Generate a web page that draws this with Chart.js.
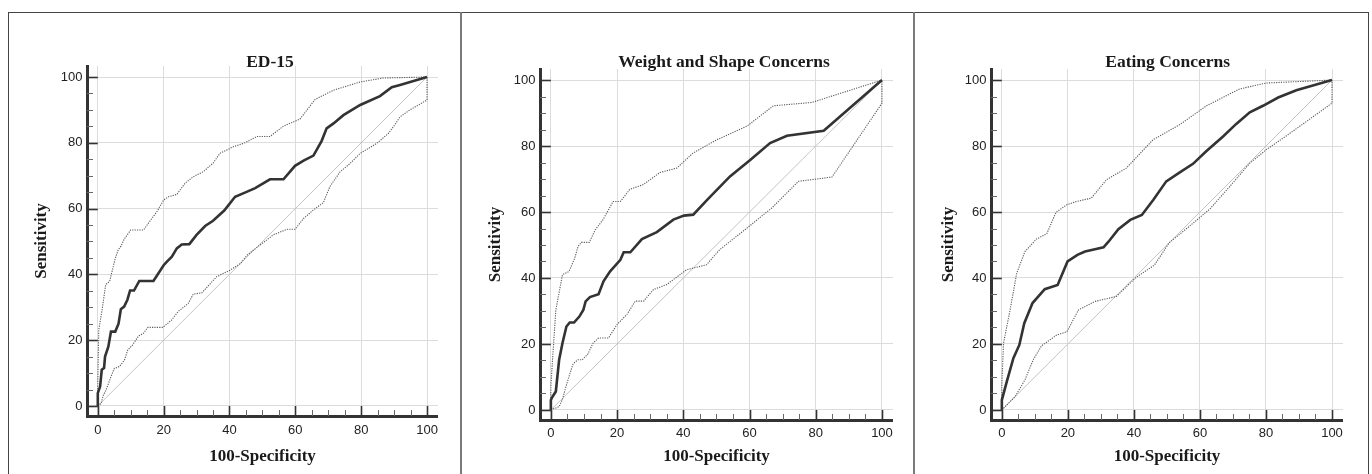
<!DOCTYPE html>
<html>
<head>
<meta charset="utf-8">
<script src="https://cdn.jsdelivr.net/npm/chart.js@4/dist/chart.umd.min.js"></script>
<style>
  html, body { margin: 0; padding: 0; background: #fff; }
  body { width: 1372px; height: 474px; position: relative; overflow: hidden; }
  #frame { position: absolute; left: 8px; top: 12px; width: 1359px; height: 470px; border: 1px solid #444; border-bottom: none; }
  .sep { position: absolute; top: 12px; width: 2px; height: 462px; background: #7a7a7a; }
  canvas { position: absolute; }
</style>
</head>
<body>
<div id="frame"></div>
<div class="sep" style="left:460px"></div>
<div class="sep" style="left:913px"></div>
<canvas id="c1"></canvas>
<canvas id="c2"></canvas>
<canvas id="c3"></canvas>
<script>
// ---------- tick labels ----------
const tickValues = [0, 20, 40, 60, 80, 100];
const minorTicks = [0, 5, 10, 15, 20, 25, 30, 35, 40, 45, 50, 55, 60, 65, 70, 75, 80, 85, 90, 95, 100];
const titles = ['ED-15', 'Weight and Shape Concerns', 'Eating Concerns'];
const xAxisTitle = '100-Specificity';
const yAxisTitle = 'Sensitivity';

// ---------- reference (chance) line ----------
const diagX = [0, 100];
const diagY = [0, 100];

// ---------- ED-15 ----------
const ed15X = [0, 0, 0.7, 1.2, 1.9, 2.2, 3.2, 4, 5.3, 6.3, 7, 8, 9, 9.8, 11, 12.6, 16.9, 20, 21, 22.5, 24, 25.5, 27.8, 30, 32.6, 35, 38.4, 41.7, 45.2, 47.8, 52.3, 56.4, 59.9, 62.5, 65.5, 68, 69.5, 71.6, 74.6, 79.7, 85.7, 89.3, 91.8, 100];
const ed15Y = [0, 3.9, 5.9, 11, 11.5, 15, 18, 22.6, 22.6, 25, 29.4, 30.2, 32.3, 35.1, 35.1, 38, 38, 42.8, 43.9, 45.4, 47.9, 49.1, 49.2, 52, 54.7, 56.3, 59.4, 63.6, 65.1, 66.2, 68.9, 68.9, 73, 74.6, 76.1, 80.6, 84.4, 85.9, 88.4, 91.5, 94.2, 96.9, 97.6, 100];
const ed15UpX = [0, 0, 0.3, 1.4, 2.4, 3.6, 4.6, 5.2, 6.2, 7, 8, 10, 13.9, 16.4, 17.9, 20, 21.5, 24, 26.5, 29, 32, 35, 37.1, 41.2, 44.7, 48.3, 52.3, 56.4, 61.4, 66, 71.6, 79.7, 86.7, 100];
const ed15UpY = [0, 6.9, 23.2, 29.8, 36.9, 37.9, 42, 44.5, 47.5, 48.5, 50.7, 53.5, 53.5, 57, 59, 62.6, 63.6, 64.3, 67.7, 69.7, 71.2, 73.8, 76.8, 78.8, 80, 81.9, 81.9, 85.1, 87.2, 93.2, 96, 98.5, 99.7, 100];
const ed15LoX = [0, 1, 1.7, 2.5, 4, 5, 6.6, 8.1, 9.1, 10.6, 12.4, 13.9, 15.2, 19.8, 22.4, 24.4, 27.5, 29, 31.6, 36.1, 40.2, 43.3, 45.3, 47.3, 53.3, 57.4, 59.9, 62.5, 65.5, 68.5, 70.5, 73.6, 76.6, 79.7, 84.7, 88.3, 89.8, 91.8, 94.8, 100, 100];
const ed15LoY = [0, 0.8, 3.3, 4.8, 8.9, 11.4, 12, 14, 17, 18.6, 21.3, 22.1, 23.9, 23.9, 26.1, 28.7, 31.2, 34, 34.4, 39.3, 41.3, 43.3, 45.8, 47.4, 52, 53.7, 53.7, 57, 59.6, 61.8, 66.7, 71.2, 73.7, 76.8, 79.8, 82.9, 84.9, 87.9, 90, 93, 100];

// ---------- Weight and Shape Concerns ----------
const wscX = [0, 0, 0.5, 1.5, 2.5, 3.5, 4.7, 5.7, 7, 8.6, 9.8, 10.5, 11.8, 14.4, 15.9, 17.9, 21, 22, 24, 27.5, 32, 37, 40.2, 43, 47.2, 54.1, 60.2, 66.2, 71.3, 82.4, 100];
const wscY = [0, 3, 4, 5.6, 15.2, 20.2, 25.3, 26.5, 26.5, 28.3, 30.3, 32.9, 34.2, 35.1, 39, 42, 45.5, 47.8, 47.8, 51.8, 53.9, 57.7, 58.9, 59.2, 63.7, 70.8, 75.8, 80.9, 83.1, 84.6, 100];
const wscUpX = [0, 0, 0.5, 1.5, 3.5, 5.5, 7.2, 8.2, 9.2, 11.6, 13.4, 15.7, 18.8, 21, 23.9, 27.9, 33, 38, 43, 50.1, 59.2, 67.2, 78.8, 100];
const wscUpY = [0, 7, 15.2, 30.3, 41, 42, 46, 49.5, 50.8, 50.8, 54.6, 57.6, 63.2, 63.2, 66.9, 68.3, 72, 73.3, 77.9, 81.9, 86, 92.2, 93.2, 100];
const wscLoX = [0, 2.5, 3.5, 4.7, 6.7, 8.2, 9.5, 11.2, 12.7, 14.4, 17.4, 20, 23, 25.5, 28, 31, 35, 39, 41, 43, 47, 51, 59.2, 66.7, 74.8, 80.3, 84.9, 100, 100];
const wscLoY = [0, 1, 3.2, 7.6, 14, 15.2, 15.2, 17, 20.2, 21.8, 21.8, 25.9, 29, 33, 33, 36.5, 38, 41, 42.5, 43, 44, 48.6, 55.1, 61.2, 69.3, 70, 70.6, 93, 100];

// ---------- Eating Concerns ----------
const ecX = [0, 0, 1.5, 3.5, 5.3, 6.8, 9.3, 13, 16.9, 19.9, 22.9, 25.2, 28.2, 30.8, 32.3, 35.3, 38.9, 42.4, 45.9, 49.8, 53.9, 57.9, 61.9, 67, 71, 75.1, 79.1, 83.7, 89.2, 100];
const ecY = [0, 3, 8.6, 15.7, 19.7, 26.3, 32.4, 36.6, 37.9, 45, 47, 48, 48.7, 49.3, 51, 54.8, 57.6, 59.1, 63.7, 69.3, 72, 74.6, 78.4, 82.9, 86.7, 90.2, 92.2, 94.7, 96.9, 100];
const ecUpX = [0, 0, 0.5, 2.5, 4.5, 7, 10.5, 13.6, 16.4, 19.7, 22.6, 27.1, 31.7, 37.7, 45.8, 53.9, 62, 72, 80.1, 100];
const ecUpY = [0, 7.1, 20.2, 30.3, 41.4, 48, 51.8, 53.4, 59.9, 62.2, 63.2, 64.2, 69.8, 73.3, 81.9, 86.5, 92.2, 97.3, 99.1, 100];
const ecLoX = [0, 4, 7, 9.5, 12, 16.6, 19.7, 23.2, 28.2, 31.7, 34.7, 40.7, 46.2, 50.7, 56, 63, 69, 75.1, 80.1, 86.2, 100, 100];
const ecLoY = [0, 4, 9.1, 15.2, 19.4, 22.7, 23.7, 30.3, 32.9, 33.7, 34.4, 40.2, 43.9, 50.7, 55, 60.9, 67.7, 74.8, 78.9, 83.1, 93, 100];

const series = [
  { main: [ed15X, ed15Y], up: [ed15UpX, ed15UpY], lo: [ed15LoX, ed15LoY] },
  { main: [wscX, wscY], up: [wscUpX, wscUpY], lo: [wscLoX, wscLoY] },
  { main: [ecX, ecY], up: [ecUpX, ecUpY], lo: [ecLoX, ecLoY] }
];

// ---------- layout (pixels) ----------
const panels = [
  { id: 'c1', left: 9,   top: 13, width: 429, height: 460, chartTop: 53, xScaleH: 57, xTickPad: 6.2, yTitleOff: 32.7, titleShift: 7.5 },
  { id: 'c2', left: 462, top: 13, width: 431, height: 460, chartTop: 56, xScaleH: 53, xTickPad: 5.2, yTitleOff: 33.5, titleShift: 7.5 },
  { id: 'c3', left: 913, top: 13, width: 430, height: 460, chartTop: 56, xScaleH: 53, xTickPad: 5.2, yTitleOff: 35.7, titleShift: 0.7 }
];

const pts = (xs, ys) => xs.map((x, i) => ({ x: x, y: ys[i] }));

const tickMarks = {
  id: 'tickMarks',
  afterLayout(chart, args, opts) {
    const tb = chart.titleBlock;
    if (tb && opts.shift) { tb.left += opts.shift; tb.right += opts.shift; }
  },
  afterDatasetsDraw(chart) {
    const { ctx, chartArea, scales } = chart;
    const x = scales.x, y = scales.y;
    const ax = chartArea.left, ay = chartArea.bottom;
    const x0 = x.getPixelForValue(0), y0 = y.getPixelForValue(0);
    ctx.save();
    minorTicks.forEach(v => {
      const major = tickValues.includes(v);
      ctx.strokeStyle = major ? '#333' : '#666';
      ctx.lineWidth = major ? 1.6 : 1;
      const px = Math.round(x.getPixelForValue(v)) + 0.5;
      ctx.beginPath(); ctx.moveTo(px, ay); ctx.lineTo(px, major ? y0 : ay - 6); ctx.stroke();
      const py = Math.round(y.getPixelForValue(v)) + 0.5;
      ctx.beginPath(); ctx.moveTo(ax, py); ctx.lineTo(major ? x0 : ax + 6, py); ctx.stroke();
    });
    ctx.restore();
  }
};

const tickFont = { family: "'Liberation Sans', Arial, sans-serif", size: 13 };
const serifBold = { family: "'Liberation Serif', 'Times New Roman', serif", size: 17, weight: 'bold' };
const titleFont = { family: "'Liberation Serif', 'Times New Roman', serif", size: 17.5, weight: 'bold' };

panels.forEach((p, i) => {
  const cv = document.getElementById(p.id);
  cv.width = p.width; cv.height = p.height;
  cv.style.left = p.left + 'px'; cv.style.top = p.top + 'px';
  cv.style.width = p.width + 'px'; cv.style.height = p.height + 'px';
  const s = series[i];
  const lh = 17.5 * 1.2;
  const titlePadTop = 49 - lh / 2;
  const titlePadBottom = p.chartTop - lh - titlePadTop;
  new Chart(cv, {
    type: 'scatter',
    data: {
      datasets: [
        { data: pts(s.main[0], s.main[1]), showLine: true, borderColor: '#333', borderWidth: 2.6, pointRadius: 0, tension: 0 },
        { data: pts(s.up[0], s.up[1]), showLine: true, borderColor: '#5a5a5a', borderWidth: 1.1, borderDash: [1.2, 1.2], pointRadius: 0, tension: 0 },
        { data: pts(s.lo[0], s.lo[1]), showLine: true, borderColor: '#5a5a5a', borderWidth: 1.1, borderDash: [1.2, 1.2], pointRadius: 0, tension: 0 },
        { data: pts(diagX, diagY), showLine: true, borderColor: '#c4c4c4', borderWidth: 1, pointRadius: 0, tension: 0 }
      ]
    },
    plugins: [tickMarks],
    options: {
      responsive: false,
      animation: false,
      devicePixelRatio: 1,
      layout: { padding: 0 },
      plugins: {
        legend: { display: false },
        tooltip: { enabled: false },
        tickMarks: { shift: p.titleShift },
        title: {
          display: true, text: titles[i], fullSize: false, color: '#1a1a1a', font: titleFont,
          padding: { top: titlePadTop, bottom: titlePadBottom }
        }
      },
      scales: {
        x: {
          type: 'linear', min: -3.28, max: 103.33,
          afterBuildTicks: sc => { sc.ticks = tickValues.map(v => ({ value: v })); },
          afterFit: sc => { sc.height = p.xScaleH; sc.paddingLeft = 0; sc.paddingRight = 0; },
          grid: { color: '#dcdcdc', lineWidth: 1, drawTicks: false },
          border: { color: '#333', width: 3 },
          ticks: { font: tickFont, color: '#222', padding: p.xTickPad, maxRotation: 0, autoSkip: false },
          title: { display: true, text: xAxisTitle, color: '#1a1a1a', font: serifBold, padding: { top: 0, bottom: 5.8 } }
        },
        y: {
          type: 'linear', min: -3.05, max: 103.35,
          afterBuildTicks: sc => { sc.ticks = tickValues.map(v => ({ value: v })); },
          afterFit: sc => { sc.width = 78; sc.paddingTop = 0; sc.paddingBottom = 0; },
          grid: { color: '#dcdcdc', lineWidth: 1, drawTicks: false },
          border: { color: '#333', width: 3 },
          ticks: { font: tickFont, color: '#222', padding: 4.5, autoSkip: false },
          title: { display: true, text: yAxisTitle, color: '#1a1a1a', font: serifBold, padding: { top: p.yTitleOff - 10.2, bottom: 0 } }
        }
      }
    }
  });
});
</script>
</body>
</html>
